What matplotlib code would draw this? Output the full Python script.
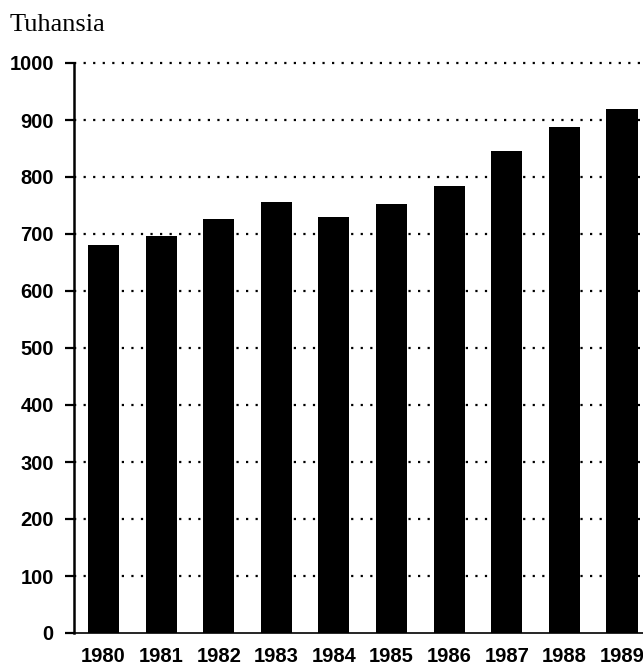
import matplotlib
matplotlib.use('Agg')
import matplotlib.pyplot as plt
import numpy as np

# vuodet ja arvot (tuhansia)
years = ['1980', '1981', '1982', '1983', '1984', '1985', '1986', '1987', '1988', '1989']
values = [680, 697, 727, 757, 729, 752, 785, 845, 887, 919]
yticks = [0, 100, 200, 300, 400, 500, 600, 700, 800, 900, 1000]

W, H = 643, 667
fig = plt.figure(figsize=(W / 100, H / 100), dpi=100)

# akselin paikka pikseleinä (vasen reuna 74, nolla 633, 1000 kohdassa 63)
left, right = 74, 643
bottom, top = 633, 63
ax = fig.add_axes([left / W, (H - bottom) / H, (right - left) / W, (bottom - top) / H])

x = np.arange(len(years))
ax.bar(x, values, width=0.54, color='black', zorder=3)

ax.set_xlim(-0.512, 9.365)
ax.set_ylim(0, 1000)
ax.set_yticks(yticks)
ax.set_yticklabels([str(t) for t in yticks], fontfamily='Liberation Sans',
                   fontweight='bold', fontsize=14.5)
ax.set_xticks(x)
ax.set_xticklabels(years, fontfamily='Liberation Sans', fontweight='bold', fontsize=14.5)

ax.tick_params(axis='y', length=6.5, width=1.6, pad=8, direction='out')
ax.tick_params(axis='x', length=0, pad=10)

# pisteviivat
for t in yticks[1:]:
    ax.axhline(t, color='black', linewidth=1.6, linestyle=(0, (1, 3.3)),
               dash_capstyle='butt', zorder=1, clip_on=False)

for s in ['top', 'right']:
    ax.spines[s].set_visible(False)
ax.spines['left'].set_linewidth(1.8)
ax.spines['bottom'].set_linewidth(1.2)

fig.text(10 / W, 1 - 31 / H, 'Tuhansia', fontfamily='Liberation Serif',
         fontsize=19, ha='left', va='baseline')

fig.savefig('out.png', dpi=100)
